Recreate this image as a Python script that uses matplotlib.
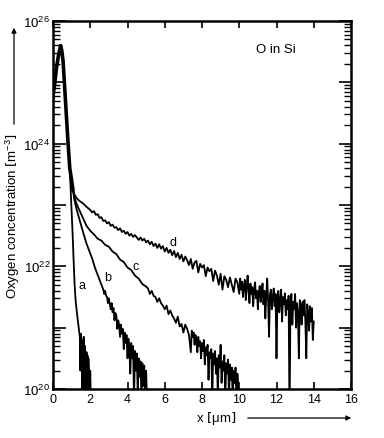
import numpy as np
import matplotlib
matplotlib.use("Agg")
import matplotlib.pyplot as plt
from matplotlib.ticker import LogLocator, FuncFormatter, NullFormatter

plt.rcParams['font.family'] = ['Liberation Sans', 'DejaVu Sans']
plt.rcParams['mathtext.fontset'] = 'dejavusans'

# ---------------- data (x in micrometres, log10 of concentration in m^-3) -------------
surface_x = [0.0, 0.03, 0.09, 0.18, 0.30, 0.41, 0.47, 0.54, 0.63, 0.72, 0.80, 0.90, 1.00, 1.07]
surface_logc = [24.75, 24.85, 24.97, 25.22, 25.45, 25.60, 25.52, 25.35, 24.90, 24.45, 24.05, 23.60, 23.40, 23.25]

a_x = [0.90, 0.97, 1.05, 1.10, 1.16, 1.22, 1.30, 1.38, 1.44, 1.47, 1.50, 1.52, 1.55, 1.57, 1.60,
       1.62, 1.65, 1.67, 1.70, 1.72, 1.75, 1.77, 1.80, 1.82, 1.85, 1.87, 1.90, 1.92, 1.95, 1.97,
       2.00, 2.03]
a_logc = [23.60, 23.10, 22.55, 22.15, 21.70, 21.42, 21.20, 21.00, 20.85, 20.30, 20.90, 20.65,
          20.80, 19.80, 20.75, 20.40, 20.85, 20.00, 20.60, 20.70, 20.45, 19.80, 20.60, 20.20,
          20.55, 19.80, 20.50, 20.35, 20.10, 19.80, 20.30, 19.80]

b_x = [1.07, 1.15, 1.25, 1.35, 1.50, 1.65, 1.80, 1.95, 2.10, 2.25, 2.40, 2.55, 2.70,
       2.75, 2.80, 2.85, 2.90, 2.95, 3.00, 3.05, 3.10, 3.15, 3.20, 3.25, 3.30, 3.35, 3.40,
       3.45, 3.50, 3.55, 3.60, 3.65, 3.70, 3.75, 3.80, 3.85, 3.90, 3.95, 4.00, 4.05, 4.10,
       4.15, 4.20, 4.25, 4.30, 4.35, 4.40, 4.45, 4.50, 4.55, 4.60, 4.65, 4.70, 4.75, 4.80,
       4.85, 4.90, 4.95, 5.00, 5.05]
b_logc = [23.25, 23.08, 22.95, 22.84, 22.68, 22.52, 22.37, 22.25, 22.13, 21.98, 21.86, 21.74, 21.62,
          21.55, 21.60, 21.52, 21.50, 21.40, 21.48, 21.38, 21.30, 21.40, 21.25, 21.32, 21.12, 21.24, 21.20,
          20.98, 21.12, 21.05, 20.85, 21.05, 20.90, 20.98, 20.65, 20.92, 20.75, 20.88, 20.50, 20.82, 20.65,
          20.25, 20.75, 20.50, 20.70, 19.80, 20.62, 20.30, 20.58, 19.90, 20.50, 20.20, 20.45, 19.80, 20.42,
          20.05, 20.38, 19.80, 20.30, 19.80]

c_x = [1.07, 1.15, 1.24, 1.35, 1.50, 1.65, 1.80, 2.00, 2.20, 2.40, 2.60, 2.80, 3.00, 3.20, 3.40,
       3.60, 3.80, 4.00, 4.20, 4.40, 4.60, 4.80, 5.00,
       5.10, 5.20, 5.30, 5.40, 5.50, 5.60, 5.70, 5.80, 5.90, 6.00, 6.10, 6.20, 6.30, 6.40, 6.50,
       6.60, 6.70, 6.80, 6.90, 7.00, 7.10, 7.20, 7.30,
       7.40, 7.45, 7.50, 7.55, 7.60, 7.65, 7.70, 7.75, 7.80, 7.85, 7.90, 7.95, 8.00, 8.05, 8.10,
       8.15, 8.20, 8.25, 8.30, 8.35, 8.40, 8.45, 8.50, 8.55, 8.60, 8.65, 8.70, 8.75, 8.80, 8.85,
       8.90, 8.95, 9.00, 9.05, 9.10, 9.15, 9.20, 9.25, 9.30, 9.35, 9.40, 9.45, 9.50, 9.55, 9.60,
       9.65, 9.70, 9.75, 9.80, 9.85, 9.90, 9.95, 10.00]
c_logc = [23.25, 23.13, 23.04, 22.96, 22.86, 22.76, 22.66, 22.58, 22.52, 22.45, 22.42, 22.35, 22.32,
          22.24, 22.20, 22.11, 22.07, 21.98, 21.94, 21.85, 21.80, 21.71, 21.67,
          21.64, 21.55, 21.60, 21.52, 21.50, 21.42, 21.48, 21.40, 21.36, 21.30, 21.36, 21.22, 21.28,
          21.20, 21.15, 21.08, 21.18, 21.02, 21.06, 20.92, 21.05, 20.98, 20.88,
          20.60, 20.95, 20.85, 20.92, 20.72, 20.88, 20.80, 20.60, 20.85, 20.70, 20.78, 20.50, 20.75,
          20.62, 20.80, 20.40, 20.68, 20.55, 20.72, 20.15, 20.60, 20.50, 20.65, 19.80, 20.58, 20.40,
          20.62, 20.25, 20.50, 19.90, 20.55, 20.35, 20.72, 20.10, 20.45, 20.30, 20.55, 19.80, 20.42,
          20.25, 20.48, 19.85, 20.40, 20.15, 20.35, 19.80, 20.30, 20.10, 20.35, 19.80, 20.25, 20.05,
          19.80]

d_x = [1.07, 1.15, 1.30, 1.45, 1.60, 1.80, 2.00, 2.10, 2.20, 2.30, 2.40, 2.50, 2.60, 2.70, 2.80,
       2.90, 3.00, 3.10, 3.20, 3.30, 3.40, 3.50, 3.60, 3.70, 3.80, 3.90, 4.00, 4.10, 4.20, 4.30,
       4.40, 4.50, 4.60, 4.70, 4.80, 4.90, 5.00, 5.10, 5.20, 5.30, 5.40, 5.50, 5.60, 5.70, 5.80,
       5.90, 6.00, 6.10, 6.20, 6.30, 6.40, 6.50, 6.60, 6.70, 6.80, 6.90, 7.00, 7.10, 7.20, 7.30,
       7.40, 7.50, 7.60, 7.70, 7.80, 7.90, 8.00, 8.10, 8.20, 8.30, 8.40, 8.50, 8.60, 8.70, 8.80,
       8.90, 9.00, 9.10, 9.20, 9.30, 9.40, 9.50, 9.60, 9.70, 9.80, 9.90,
       10.00, 10.05, 10.10, 10.15, 10.20, 10.25, 10.30, 10.35, 10.40, 10.45, 10.50, 10.55, 10.60,
       10.65, 10.70, 10.75, 10.80, 10.85, 10.90, 10.95, 11.00, 11.05, 11.10, 11.15, 11.20, 11.25,
       11.30, 11.35, 11.40, 11.45, 11.50, 11.55, 11.60, 11.65, 11.70, 11.75, 11.80, 11.85, 11.90,
       11.95, 12.00, 12.05, 12.10, 12.15, 12.20, 12.25, 12.30, 12.35, 12.40, 12.45, 12.50, 12.55,
       12.60, 12.65, 12.70, 12.75, 12.80, 12.85, 12.90, 12.95, 13.00, 13.05, 13.10, 13.15, 13.20,
       13.25, 13.30, 13.35, 13.40, 13.45, 13.50, 13.55, 13.60, 13.65, 13.70, 13.75, 13.80, 13.85,
       13.90, 13.95, 14.00]
d_logc = [23.25, 23.17, 23.10, 23.06, 23.03, 22.97, 22.92, 22.88, 22.90, 22.84, 22.85, 22.79, 22.80,
          22.74, 22.75, 22.70, 22.72, 22.66, 22.68, 22.63, 22.64, 22.59, 22.62, 22.56, 22.58, 22.53,
          22.56, 22.50, 22.53, 22.48, 22.51, 22.47, 22.43, 22.47, 22.42, 22.45, 22.39, 22.42, 22.36,
          22.40, 22.33, 22.37, 22.30, 22.36, 22.29, 22.33, 22.24, 22.30, 22.22, 22.27, 22.18, 22.25,
          22.15, 22.22, 22.12, 22.19, 22.08, 22.16, 22.10, 22.02, 22.12, 21.96, 22.06, 22.09, 21.90,
          22.04, 21.98, 22.02, 21.84, 21.98, 21.92, 21.96, 21.76, 21.93, 21.85, 21.70, 21.88, 21.62,
          21.84, 21.78, 21.66, 21.82, 21.70, 21.58, 21.80, 21.74,
          21.55, 21.80, 21.62, 21.75, 21.50, 21.70, 21.78, 21.45, 21.68, 21.85, 21.58, 21.40, 21.72,
          21.55, 21.66, 21.35, 21.62, 21.74, 21.48, 21.60, 21.30, 21.58, 21.68, 21.42, 21.55, 21.72,
          21.38, 21.60, 21.15, 21.50, 21.80, 21.45, 20.85, 21.55, 21.62, 21.30, 21.50, 21.64, 21.35,
          21.55, 20.50, 21.48, 21.60, 21.25, 21.45, 21.62, 21.10, 21.50, 21.38, 21.56, 21.20, 21.45,
          21.30, 21.52, 19.50, 21.40, 21.55, 21.05, 21.42, 21.30, 21.55, 21.00, 21.40, 21.25, 20.50,
          21.45, 21.35, 21.05, 21.42, 21.20, 21.45, 21.10, 20.50, 21.38, 21.25, 20.95, 21.35, 21.10,
          21.32, 20.80, 21.10]

curve_names = ['a', 'b', 'c', 'd']
label_x = [1.56, 2.96, 4.46, 6.45]
label_logc = [21.70, 21.83, 22.00, 22.40]

xticks = [0, 2, 4, 6, 8, 10, 12, 14, 16]

# ---------------- figure ---------------------------------------------------------------
W, H = 384, 439
fig = plt.figure(figsize=(W / 100, H / 100), dpi=100)
ax = fig.add_axes([53 / W, 1 - 390 / H, (351 - 53) / W, (390 - 22) / H])

ax.plot(surface_x, 10 ** np.array(surface_logc), color='black', lw=2.6, solid_joinstyle='round')
for xs, ls in [(a_x, a_logc), (b_x, b_logc), (c_x, c_logc), (d_x, d_logc)]:
    ax.plot(xs, 10 ** np.array(ls), color='black', lw=1.3)

for n, lx, ly in zip(curve_names, label_x, label_logc):
    ax.text(lx, 10 ** ly, n, fontsize=9, ha='center', va='center')

ax.text(0.748, 0.924, 'O in Si', transform=ax.transAxes, fontsize=9.5, ha='center', va='center')

ax.set_yscale('log')
ax.set_xlim(0, 16)
ax.set_ylim(1e20, 1e26)
ax.set_xticks(xticks)
ax.set_xticklabels([str(v) for v in xticks])
ax.yaxis.set_major_locator(LogLocator(base=10, numticks=20))
ax.yaxis.set_minor_locator(LogLocator(base=10, subs=np.arange(2, 10), numticks=20))
ax.yaxis.set_minor_formatter(NullFormatter())


def yfmt(v, pos):
    e = int(round(np.log10(v)))
    return r'$\mathregular{10^{%d}}$' % e if e % 2 == 0 else ''


ax.yaxis.set_major_formatter(FuncFormatter(yfmt))

ax.tick_params(axis='x', which='major', direction='in', top=True, length=5, width=1.2,
               labelsize=9, pad=3)
ax.tick_params(axis='y', which='major', direction='in', right=True, length=9, width=1.2,
               labelsize=9.5, pad=2)
ax.tick_params(axis='y', which='minor', direction='in', right=True, length=5, width=1.0)
for s in ax.spines.values():
    s.set_linewidth(1.8)

# axis labels with arrows
fig.text(13 / W, 1 - 216 / H, r'Oxygen concentration $\left[\mathregular{m^{-3}}\right]$',
         rotation=90, ha='center', va='center', fontsize=9.5)
fig.add_artist(matplotlib.patches.FancyArrowPatch((14 / W, 1 - 128 / H), (14 / W, 1 - 26 / H),
                                                  transform=fig.transFigure, arrowstyle='-|>',
                                                  mutation_scale=7, lw=0.9, color='black'))
fig.text(216 / W, 1 - 419 / H, r'x $\left[\mathregular{\mu m}\right]$',
         ha='center', va='center', fontsize=9.5)
fig.add_artist(matplotlib.patches.FancyArrowPatch((245 / W, 1 - 419 / H), (354 / W, 1 - 419 / H),
                                                  transform=fig.transFigure, arrowstyle='-|>',
                                                  mutation_scale=7, lw=0.9, color='black'))

fig.savefig('out.png', dpi=100)
